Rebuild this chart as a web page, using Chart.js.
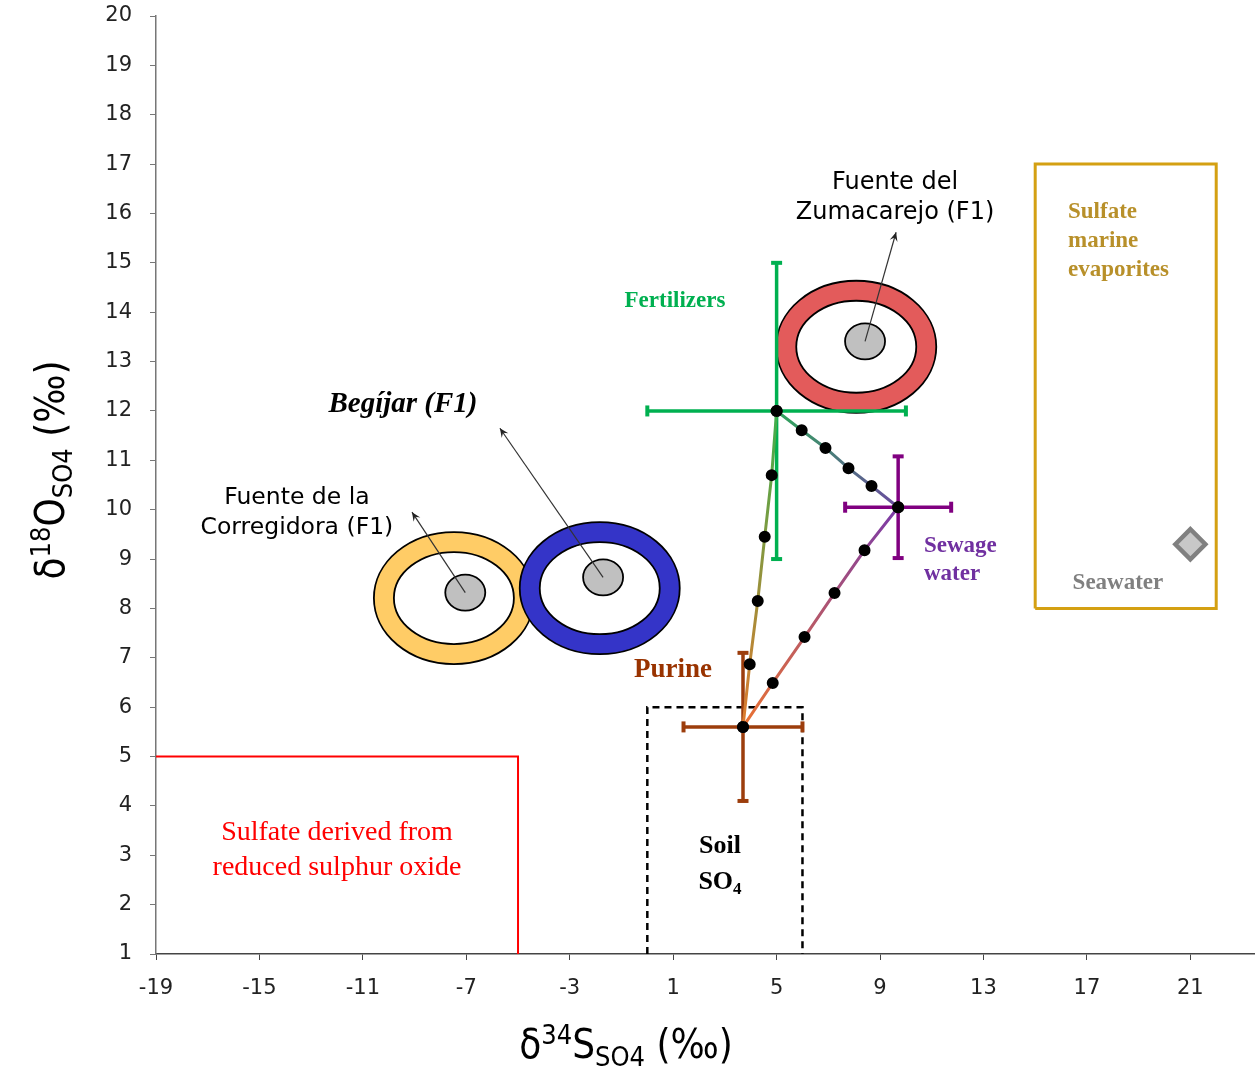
<!DOCTYPE html>
<html>
<head>
<meta charset="utf-8">
<script src="https://cdn.jsdelivr.net/npm/chart.js@4.4.1/dist/chart.umd.min.js"></script>
<style>
  html, body { margin: 0; padding: 0; background: #fff; }
  #wrap { width: 1255px; height: 1067px; }
</style>
</head>
<body>
<div id="wrap"><canvas id="chart" width="1255" height="1067"></canvas></div>
<script>
// axis ticks
const xTicks = [-19, -15, -11, -7, -3, 1, 5, 9, 13, 17, 21];
const yTicks = [1, 2, 3, 4, 5, 6, 7, 8, 9, 10, 11, 12, 13, 14, 15, 16, 17, 18, 19, 20];

// end members: centre and +/- error (permil)
const sourceNames = ['Fertilizers', 'Sewage water', 'Purine'];
const sourceS34 = [5.0, 9.7, 3.7];
const sourceO18 = [12.0, 10.05, 5.6];
const sourceErrS = [5.0, 2.05, 2.3];
const sourceErrO = [3.0, 1.03, 1.5];

// mixing points between end members
const mixPurFertS = [3.96, 4.27, 4.54, 4.81];
const mixPurFertO = [6.87, 8.15, 9.45, 10.70];
const mixFertSewS = [5.97, 6.89, 7.78, 8.67];
const mixFertSewO = [11.61, 11.25, 10.84, 10.48];
const mixSewPurS = [8.40, 7.24, 6.08, 4.85];
const mixSewPurO = [9.18, 8.31, 7.42, 6.49];

// springs (F1): sample point and ring centre
const springNames = ['Fuente del Zumacarejo (F1)', 'Begíjar (F1)', 'Fuente de la Corregidora (F1)'];
const springS34 = [8.42, -1.71, -7.04];
const springO18 = [13.41, 8.63, 8.32];
const ringS34 = [8.08, -1.84, -7.48];
const ringO18 = [13.30, 8.41, 8.21];
// where the pointer arrows end
const arrowS34 = [9.62, -5.70, -9.10];
const arrowO18 = [15.62, 11.65, 9.95];

// seawater
const seawaterS34 = [21.0];
const seawaterO18 = [9.3];

// field boundaries
const evapS = [15, 15, 22, 22, 15];
const evapO = [8, 17, 17, 8, 8];
const soilS = [0, 0, 6, 6];
const soilO = [1, 6, 6, 1];
const reducedS = [-19, -5, -5];
const reducedO = [5, 5, 1];

const pts = (xs, ys) => xs.map((x, i) => ({ x: x, y: ys[i] }));

const srcColors = ['#00b050', '#800080', '#9c3d0c'];

// gradient along a mixing line, from first to last point
function gradientLine(c0, c1) {
  return (ctx) => {
    const chart = ctx.chart;
    if (!chart.chartArea || !ctx.dataset) return c0;
    const d = ctx.dataset.data;
    const a = d[0], b = d[d.length - 1];
    const xs = chart.scales.x, ys = chart.scales.y;
    const g = chart.ctx.createLinearGradient(
      xs.getPixelForValue(a.x), ys.getPixelForValue(a.y),
      xs.getPixelForValue(b.x), ys.getPixelForValue(b.y));
    g.addColorStop(0, c0);
    g.addColorStop(1, c1);
    return g;
  };
}

function mixLine(i0, i1, ms, mo, c0, c1) {
  const data = [{ x: sourceS34[i0], y: sourceO18[i0] }]
    .concat(pts(ms, mo))
    .concat([{ x: sourceS34[i1], y: sourceO18[i1] }]);
  return {
    data: data,
    showLine: true,
    borderColor: gradientLine(c0, c1),
    borderWidth: 3,
    pointRadius: 4.5,
    pointBackgroundColor: '#000',
    pointBorderColor: '#000',
    order: 1
  };
}

const datasets = [];

// field boxes
datasets.push({ data: pts(reducedS, reducedO), showLine: true, borderColor: '#ff0000', borderWidth: 2, pointRadius: 0, order: 5 });
datasets.push({ data: pts(soilS, soilO), showLine: true, borderColor: '#000', borderWidth: 2.5, borderDash: [7, 5], pointRadius: 0, order: 5 });
datasets.push({ data: pts(evapS, evapO), showLine: true, borderColor: '#d4a012', borderWidth: 3, pointRadius: 0, order: 5 });

// error bars
sourceNames.forEach((name, i) => {
  const cx = sourceS34[i], cy = sourceO18[i];
  datasets.push({
    data: [{ x: cx - sourceErrS[i], y: cy }, { x: cx + sourceErrS[i], y: cy }],
    showLine: true, borderColor: srcColors[i], borderWidth: 3.5,
    pointStyle: 'line', pointRotation: 90, pointRadius: 5.5, pointBorderWidth: 4,
    pointBorderColor: srcColors[i], order: 3
  });
  datasets.push({
    data: [{ x: cx, y: cy - sourceErrO[i] }, { x: cx, y: cy + sourceErrO[i] }],
    showLine: true, borderColor: srcColors[i], borderWidth: 3.5,
    pointStyle: 'line', pointRotation: 0, pointRadius: 5.5, pointBorderWidth: 4,
    pointBorderColor: srcColors[i], order: 3
  });
});

// mixing lines
datasets.push(mixLine(2, 0, mixPurFertS, mixPurFertO, '#e07a2e', '#3fae4c'));
datasets.push(mixLine(0, 1, mixFertSewS, mixFertSewO, '#2fa65a', '#6b4aa0'));
datasets.push(mixLine(1, 2, mixSewPurS, mixSewPurO, '#7a3aa8', '#ea7232'));

// seawater
datasets.push({
  data: pts(seawaterS34, seawaterO18), showLine: false,
  pointStyle: 'rectRot', pointRadius: 15, pointBorderWidth: 4.5,
  pointBackgroundColor: '#c8c8c8', pointBorderColor: '#808080', order: 0
});

const ringStyle = [
  { color: '#e35b5b' },
  { color: '#3434c8' },
  { color: '#ffcc66' }
];

// labels placed in data units, lines stacked around the anchor
const labels = [
  { lines: ['Fuente del', 'Zumacarejo (F1)'], x: 9.58, y: 16.31, font: '24px "DejaVu Sans"', color: '#000', gap: 30, align: 'center' },
  { lines: ['Begíjar (F1)'], x: -9.45, y: 12.14, font: 'italic bold 29px "Liberation Serif"', color: '#000', gap: 0, align: 'center' },
  { lines: ['Fuente de la', 'Corregidora (F1)'], x: -13.55, y: 9.93, font: '23.5px "DejaVu Sans"', color: '#000', gap: 30, align: 'center' },
  { lines: ['Fertilizers'], x: 1.07, y: 14.23, font: 'bold 23px "Liberation Serif"', color: '#00b050', gap: 0, align: 'center' },
  { lines: ['Sulfate', 'marine', 'evaporites'], x: 16.27, y: 15.44, font: 'bold 23px "Liberation Serif"', color: '#b8902a', gap: 29, align: 'left' },
  { lines: ['Seawater'], x: 18.2, y: 8.51, font: 'bold 23px "Liberation Serif"', color: '#808080', gap: 0, align: 'center' },
  { lines: ['Sewage', 'water'], x: 10.70, y: 8.98, font: 'bold 23px "Liberation Serif"', color: '#7030a0', gap: 28, align: 'left' },
  { lines: ['Purine'], x: 0.99, y: 6.75, font: 'bold 27px "Liberation Serif"', color: '#993300', gap: 0, align: 'center' },
  { lines: ['Sulfate derived from', 'reduced sulphur oxide'], x: -12.0, y: 3.11, font: '28px "Liberation Serif"', color: '#ff0000', gap: 35, align: 'center' }
];

function drawRich(ctx, parts, x, y, align) {
  let w = 0;
  parts.forEach(p => { ctx.font = p.font; p.w = ctx.measureText(p.t).width; w += p.w; });
  let cx = align === 'center' ? x - w / 2 : x;
  ctx.textBaseline = 'alphabetic';
  ctx.textAlign = 'left';
  parts.forEach(p => { ctx.font = p.font; ctx.fillText(p.t, cx, y + (p.dy || 0)); cx += p.w; });
}

function arrowHead(ctx, x0, y0, x1, y1) {
  const a = Math.atan2(y1 - y0, x1 - x0);
  const L = 9, W = 4;
  ctx.beginPath();
  ctx.moveTo(x1, y1);
  ctx.lineTo(x1 - L * Math.cos(a) + W * Math.sin(a), y1 - L * Math.sin(a) - W * Math.cos(a));
  ctx.lineTo(x1 - 0.6 * L * Math.cos(a), y1 - 0.6 * L * Math.sin(a));
  ctx.lineTo(x1 - L * Math.cos(a) - W * Math.sin(a), y1 - L * Math.sin(a) + W * Math.cos(a));
  ctx.closePath();
  ctx.fill();
}

const decor = {
  id: 'decor',
  beforeDatasetsDraw(chart) {
    const ctx = chart.ctx, xs = chart.scales.x, ys = chart.scales.y;
    ctx.save();
    const ell = (x, y, rx, ry, fill) => {
      ctx.beginPath();
      ctx.ellipse(x, y, rx, ry, 0, 0, Math.PI * 2);
      ctx.fillStyle = fill; ctx.fill();
      ctx.lineWidth = 1.8; ctx.strokeStyle = '#000'; ctx.stroke();
    };
    [2, 1, 0].forEach(i => {
      const rx = xs.getPixelForValue(ringS34[i]), ry = ys.getPixelForValue(ringO18[i]);
      ell(rx, ry, 80, 66, ringStyle[i].color);
      ell(rx, ry, 60, 46, '#fff');
      const sx = xs.getPixelForValue(springS34[i]), sy = ys.getPixelForValue(springO18[i]);
      ell(sx, sy, 20, 18, '#c0c0c0');
    });
    ctx.strokeStyle = '#333'; ctx.fillStyle = '#222'; ctx.lineWidth = 1.2;
    springNames.forEach((n, i) => {
      const x0 = xs.getPixelForValue(springS34[i]), y0 = ys.getPixelForValue(springO18[i]);
      const x1 = xs.getPixelForValue(arrowS34[i]), y1 = ys.getPixelForValue(arrowO18[i]);
      ctx.beginPath(); ctx.moveTo(x0, y0); ctx.lineTo(x1, y1); ctx.stroke();
      arrowHead(ctx, x0, y0, x1, y1);
    });
    ctx.restore();
  },
  afterDraw(chart) {
    const ctx = chart.ctx, xs = chart.scales.x, ys = chart.scales.y;
    ctx.save();
    labels.forEach(l => {
      ctx.font = l.font; ctx.fillStyle = l.color;
      ctx.textAlign = l.align; ctx.textBaseline = 'middle';
      const px = xs.getPixelForValue(l.x), py = ys.getPixelForValue(l.y);
      const top = py - (l.lines.length - 1) * l.gap / 2;
      l.lines.forEach((t, k) => ctx.fillText(t, px, top + k * l.gap));
    });
    // Soil SO4 with subscript
    ctx.fillStyle = '#000';
    const sx = xs.getPixelForValue(2.81), sy = ys.getPixelForValue(2.84);
    ctx.font = 'bold 26px "Liberation Serif"'; ctx.textAlign = 'center'; ctx.textBaseline = 'middle';
    ctx.fillText('Soil', sx, sy - 17);
    drawRich(ctx, [
      { t: 'SO', font: 'bold 26px "Liberation Serif"' },
      { t: '4', font: 'bold 17px "Liberation Serif"', dy: 5 }
    ], sx, sy + 26, 'center');

    // axis titles
    ctx.fillStyle = '#000';
    const big = '40px "Liberation Sans Narrow", "DejaVu Sans Condensed", sans-serif';
    const small = '27px "Liberation Sans Narrow", "DejaVu Sans Condensed", sans-serif';
    drawRich(ctx, [
      { t: 'δ', font: big }, { t: '34', font: small, dy: -14 },
      { t: 'S', font: big }, { t: 'SO4', font: small, dy: 8 },
      { t: ' (‰)', font: big }
    ], 626, 1058, 'center');
    ctx.translate(64, 470);
    ctx.rotate(-Math.PI / 2);
    drawRich(ctx, [
      { t: 'δ', font: big }, { t: '18', font: small, dy: -14 },
      { t: 'O', font: big }, { t: 'SO4', font: small, dy: 8 },
      { t: ' (‰)', font: big }
    ], 0, 0, 'center');
    ctx.restore();
  }
};

new Chart(document.getElementById('chart'), {
  type: 'scatter',
  data: { datasets: datasets },
  options: {
    responsive: false,
    animation: false,
    layout: { autoPadding: false, padding: { top: 16, right: 0, left: 0, bottom: 0 } },
    elements: { line: { tension: 0 } },
    plugins: { legend: { display: false }, tooltip: { enabled: false } },
    scales: {
      x: {
        type: 'linear', min: -19, max: 23.5,
        afterBuildTicks: (s) => { s.ticks = xTicks.map(v => ({ value: v })); },
        afterFit: (s) => { s.height = 113; s.paddingLeft = 0; s.paddingRight = 0; },
        grid: { drawOnChartArea: false, drawTicks: true, tickLength: 6, color: '#444' },
        border: { color: '#444', width: 1.5 },
        ticks: { color: '#222', font: { family: 'DejaVu Sans', size: 21 }, padding: 16, maxRotation: 0 }
      },
      y: {
        type: 'linear', min: 1, max: 20,
        afterBuildTicks: (s) => { s.ticks = yTicks.map(v => ({ value: v })); },
        afterFit: (s) => { s.width = 156; s.paddingTop = 0; s.paddingBottom = 0; },
        grid: { drawOnChartArea: false, drawTicks: true, tickLength: 6, color: '#777' },
        border: { color: '#777', width: 1.5 },
        ticks: { color: '#222', font: { family: 'DejaVu Sans', size: 21 }, padding: 18 }
      }
    }
  },
  plugins: [decor]
});
</script>
</body>
</html>
